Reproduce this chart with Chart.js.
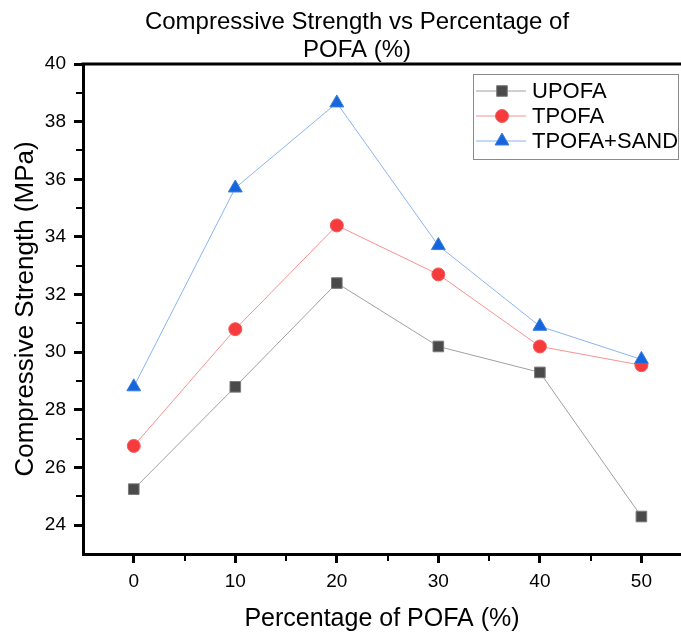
<!DOCTYPE html>
<html>
<head>
<meta charset="utf-8">
<script src="https://cdn.jsdelivr.net/npm/chart.js@4.4.0/dist/chart.umd.min.js"></script>
<style>
  body { margin: 0; background: #fff; }
  #wrap { width: 681px; height: 634px; }
</style>
</head>
<body>
<div id="wrap"><canvas id="myChart"></canvas></div>
<script>
// values
const pofa = [0, 10, 20, 30, 40, 50];
const upofa = [25.25, 28.8, 32.4, 30.2, 29.3, 24.3];
const tpofa = [26.75, 30.8, 34.4, 32.7, 30.2, 29.55];
const tpofaSand = [28.8, 35.7, 38.65, 33.7, 30.9, 29.75];

const xTicks = [0, 10, 20, 30, 40, 50];
const yTicks = [24, 26, 28, 30, 32, 34, 36, 38, 40];
const xMinor = [5, 15, 25, 35, 45];
const yMinor = [25, 27, 29, 31, 33, 35, 37, 39];
const titleLines = ['Compressive Strength vs Percentage of', 'POFA (%)'];

const FONT = "'Liberation Sans', Arial, sans-serif";
Chart.defaults.font.family = FONT;
Chart.defaults.color = '#000';

// the frame runs off the right edge of the picture, so don't reserve room for markers
if (Chart.LineController) {
  Chart.LineController.prototype.getMaxOverflow = function () { return 0; };
}

function toXY(ys) {
  return pofa.map((x, i) => ({ x: x, y: ys[i] }));
}

// title, top frame line, minor ticks and the boxed legend
const extras = {
  id: 'extras',
  afterDraw(chart) {
    const ctx = chart.ctx;
    const area = chart.chartArea;
    const xs = chart.scales.x;
    const ys = chart.scales.y;
    ctx.save();

    // top frame
    ctx.strokeStyle = '#000';
    ctx.lineWidth = 3;
    ctx.beginPath();
    ctx.moveTo(area.left - 1.5, area.top);
    ctx.lineTo(chart.width, area.top);
    ctx.stroke();

    // minor ticks
    ctx.lineWidth = 2;
    ctx.beginPath();
    yMinor.forEach(v => {
      const p = Math.round(ys.getPixelForValue(v));
      ctx.moveTo(area.left - 7, p);
      ctx.lineTo(area.left, p);
    });
    xMinor.forEach(v => {
      const p = Math.round(xs.getPixelForValue(v));
      ctx.moveTo(p, area.bottom);
      ctx.lineTo(p, area.bottom + 7);
    });
    ctx.stroke();

    // title
    ctx.fillStyle = '#000';
    ctx.font = '24px ' + FONT;
    ctx.textAlign = 'center';
    ctx.textBaseline = 'middle';
    ctx.fillText(titleLines[0], 357, 22);
    ctx.fillText(titleLines[1], 357, 50);

    // legend
    ctx.strokeStyle = '#8a8a8a';
    ctx.lineWidth = 1;
    ctx.strokeRect(473.5, 74.5, 205, 85);
    const rowsY = [91, 116, 141];
    chart.data.datasets.forEach((ds, i) => {
      const y = rowsY[i];
      ctx.strokeStyle = ds.borderColor;
      ctx.lineWidth = 1;
      ctx.beginPath();
      ctx.moveTo(476, y);
      ctx.lineTo(526, y);
      ctx.stroke();
      ctx.fillStyle = ds.pointBackgroundColor;
      ctx.strokeStyle = ds.pointBorderColor;
      Chart.helpers.drawPoint(ctx, {
        pointStyle: ds.pointStyle, rotation: 0,
        radius: ds.pointRadius, borderWidth: 1
      }, 502, y);
      ctx.fillStyle = '#000';
      ctx.font = '22px ' + FONT;
      ctx.textAlign = 'left';
      ctx.fillText(ds.label, 532, y + 1);
    });
    ctx.restore();
  }
};

const ctx = document.getElementById('myChart').getContext('2d');
const myChart = new Chart(ctx, {
  type: 'line',
  data: {
    datasets: [{
      label: 'UPOFA',
      data: toXY(upofa),
      borderColor: 'rgba(120, 120, 120, 0.7)',
      borderWidth: 1,
      pointStyle: 'rect',
      pointRadius: 7.5,
      pointBackgroundColor: '#4a4a4a',
      pointBorderColor: '#7a7a7a',
      pointBorderWidth: 1,
      order: 2
    }, {
      label: 'TPOFA',
      data: toXY(tpofa),
      borderColor: 'rgba(245, 110, 110, 0.75)',
      borderWidth: 1,
      pointStyle: 'circle',
      pointRadius: 6.5,
      pointBackgroundColor: '#f53b3b',
      pointBorderColor: '#f55a5a',
      pointBorderWidth: 1,
      order: 1
    }, {
      label: 'TPOFA+SAND',
      data: toXY(tpofaSand),
      borderColor: 'rgba(100, 155, 235, 0.75)',
      borderWidth: 1,
      pointStyle: 'triangle',
      pointRadius: 8,
      pointBackgroundColor: '#1565dc',
      pointBorderColor: '#3a7de0',
      pointBorderWidth: 1,
      order: 0
    }]
  },
  options: {
    responsive: true,
    maintainAspectRatio: false,
    animation: false,
    layout: { padding: { top: 64, left: 0, bottom: 0, right: 0 } },
    plugins: {
      legend: { display: false },
      tooltip: { enabled: false }
    },
    scales: {
      x: {
        type: 'linear',
        min: -5,
        max: 53.9,
        afterBuildTicks: s => { s.ticks = xTicks.map(v => ({ value: v })); },
        afterFit: s => { s.height = 80; },
        grid: { display: true, drawOnChartArea: false, tickLength: 9, tickWidth: 3, tickColor: '#000' },
        border: { color: '#000', width: 3 },
        ticks: { font: { size: 19 }, padding: 7, maxRotation: 0, autoSkip: false },
        title: { display: true, text: 'Percentage of POFA (%)', font: { size: 25 }, padding: { top: 0, bottom: 0 } }
      },
      y: {
        min: 23,
        max: 40,
        afterBuildTicks: s => { s.ticks = yTicks.map(v => ({ value: v })); },
        afterFit: s => { s.width = 83; },
        grid: { display: true, drawOnChartArea: false, tickLength: 9, tickWidth: 3, tickColor: '#000' },
        border: { color: '#000', width: 3 },
        ticks: { font: { size: 19 }, padding: 8, autoSkip: false },
        title: { display: true, text: 'Compressive Strength (MPa)', font: { size: 26 }, padding: { top: 10, bottom: 0 } }
      }
    }
  },
  plugins: [extras]
});
</script>
</body>
</html>
